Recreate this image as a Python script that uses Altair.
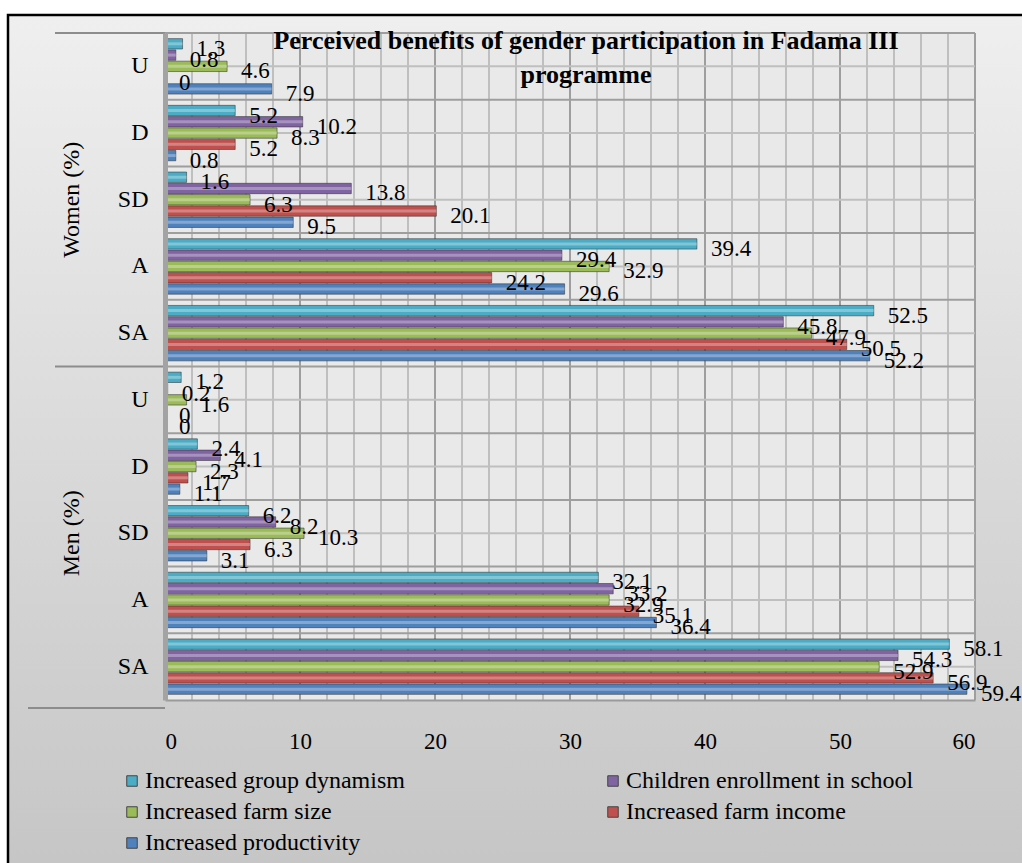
import altair as alt
import pandas as pd

categories = ["U", "D", "SD", "A", "SA"]
groups = ["Women", "Men"]
group_titles = ["Women (%)", "Men (%)"]
series = [
    "Increased group dynamism",
    "Children enrollment in school",
    "Increased farm size",
    "Increased farm income",
    "Increased productivity",
]
colors = ["#4bacc6", "#8064a2", "#9bbb59", "#c0504d", "#4f81bd"]
title_text = "Perceived benefits of gender participation  in Fadama III\nprogramme"
x_ticks = [0, 10, 20, 30, 40, 50, 60]
x_minor = [v for v in range(0, 61, 2) if v % 10 != 0]

# values per category U, D, SD, A, SA
women_group_dynamism = [1.3, 5.2, 1.6, 39.4, 52.5]
women_children = [0.8, 10.2, 13.8, 29.4, 45.8]
women_farm_size = [4.6, 8.3, 6.3, 32.9, 47.9]
women_farm_income = [0, 5.2, 20.1, 24.2, 50.5]
women_productivity = [7.9, 0.8, 9.5, 29.6, 52.2]

men_group_dynamism = [1.2, 2.4, 6.2, 32.1, 58.1]
men_children = [0.2, 4.1, 8.2, 33.2, 54.3]
men_farm_size = [1.6, 2.3, 10.3, 32.9, 52.9]
men_farm_income = [0, 1.7, 6.3, 35.1, 56.9]
men_productivity = [0, 1.1, 3.1, 36.4, 59.4]

women_values = [women_group_dynamism, women_children, women_farm_size,
                women_farm_income, women_productivity]
men_values = [men_group_dynamism, men_children, men_farm_size,
              men_farm_income, men_productivity]

row_order = [f"{g}|{c}" for g in groups for c in categories]

records = []
for g, vals in zip(groups, [women_values, men_values]):
    for s, vs in zip(series, vals):
        for c, v in zip(categories, vs):
            records.append({"row": f"{g}|{c}", "series": s, "value": v,
                            "label": f"{v:g}"})
df = pd.DataFrame(records)
rows_df = pd.DataFrame({"row": row_order})
group_df = pd.DataFrame({"row": [f"{g}|SD" for g in groups], "t": group_titles})
sep_df = pd.DataFrame({"row": [f"{g}|U" for g in groups]})
title_df = pd.DataFrame({"t": [title_text]})
major_df = pd.DataFrame({"v": x_ticks})
minor_df = pd.DataFrame({"v": x_minor})
one_df = pd.DataFrame({"a": [0]})

W, H = 810, 667
SERIF = "Liberation Serif"

xscale = alt.Scale(domain=[0, 60], nice=False)
yscale = alt.Scale(domain=row_order, paddingInner=0, paddingOuter=0)
y_main = alt.Y(
    "row:N", sort=row_order, scale=yscale, title=None,
    axis=alt.Axis(
        labelExpr="split(datum.label, '|')[1]", ticks=False, grid=False,
        domain=True, domainColor="#a3a3a3", domainWidth=5, zindex=1,
        labelFont=SERIF, labelFontSize=24, labelColor="black", labelPadding=17,
    ),
)
yoff = alt.YOffset("series:N", sort=series,
                   scale=alt.Scale(domain=series, paddingInner=0.08, paddingOuter=0.5))
x_main = alt.X(
    "value:Q", title=None, scale=xscale,
    axis=alt.Axis(
        values=x_ticks, ticks=False, domain=True, domainColor="#9a9a9a",
        domainWidth=2, grid=False, zindex=1,
        labelFont=SERIF, labelFontSize=23, labelColor="black", labelPadding=30,
    ),
)

grad = alt.Gradient(
    gradient="linear",
    stops=[alt.GradientStop(offset=0, color="#efefef"),
           alt.GradientStop(offset=0.5, color="#dadada"),
           alt.GradientStop(offset=1, color="#c5c5c5")],
    x1=0, x2=0, y1=0, y2=1,
)
panel_bg = alt.Chart(one_df).mark_rect(fill=grad, stroke="black", strokeWidth=2.5).encode(
    x=alt.value(-157), x2=alt.value(880), y=alt.value(-18), y2=alt.value(850),
)
plot_bg = alt.Chart(one_df).mark_rect(color="#e9e9e9").encode(
    x=alt.value(0), x2=alt.value(W), y=alt.value(0), y2=alt.value(H),
)

minor_rules = alt.Chart(minor_df).mark_rule(color="#bfbfbf", strokeWidth=2).encode(
    x=alt.X("v:Q", scale=xscale)
)
major_rules = alt.Chart(major_df).mark_rule(color="#9e9e9e", strokeWidth=2).encode(
    x=alt.X("v:Q", scale=xscale)
)
mid_rules = alt.Chart(rows_df).mark_rule(color="#bfbfbf", strokeWidth=2).encode(
    y=alt.Y("row:N", sort=row_order, scale=yscale, bandPosition=0.5)
)
edge_rules = alt.Chart(rows_df).mark_rule(color="#9e9e9e", strokeWidth=2).encode(
    y=alt.Y("row:N", sort=row_order, scale=yscale, bandPosition=0)
)

bars = alt.Chart(df).mark_bar(strokeWidth=1, strokeOpacity=0.55, stroke="#333333").encode(
    x=x_main,
    y=y_main,
    yOffset=yoff,
    color=alt.Color(
        "series:N", sort=series,
        scale=alt.Scale(domain=series, range=colors),
        legend=alt.Legend(
            title=None, orient="none", legendX=-45, legendY=736, columns=2,
            direction="horizontal",
            symbolType="square", symbolSize=110, symbolStrokeWidth=1,
            symbolStrokeColor="#444444",
            labelFont=SERIF, labelFontSize=24, labelColor="black",
            labelLimit=500, rowPadding=7, columnPadding=196, labelOffset=1,
        ),
    ),
)

highlight = alt.Chart(df).mark_bar(color="white", opacity=0.3, height=3, yOffset=-2).encode(
    x=alt.X("value:Q", scale=xscale),
    y=alt.Y("row:N", sort=row_order, scale=yscale),
    yOffset=yoff,
)

labels = alt.Chart(df).mark_text(
    align="left", baseline="middle", dx=14, dy=5, font=SERIF, fontSize=23,
    color="black",
).encode(
    x=alt.X("value:Q", scale=xscale),
    y=alt.Y("row:N", sort=row_order, scale=yscale),
    yOffset=yoff,
    text="label:N",
)

group_labels = alt.Chart(group_df).mark_text(
    angle=270, font=SERIF, fontSize=24, color="black", baseline="middle",
    align="center",
).encode(
    x=alt.value(-93),
    y=alt.Y("row:N", sort=row_order, scale=yscale),
    text="t:N",
)

sep_rules = alt.Chart(sep_df).mark_rule(color="#8c8c8c", strokeWidth=2).encode(
    x=alt.value(-110), x2=alt.value(0),
    y=alt.Y("row:N", sort=row_order, scale=yscale, bandPosition=0),
)
bottom_rule = alt.Chart(one_df).mark_rule(color="#8c8c8c", strokeWidth=2).encode(
    x=alt.value(-137), x2=alt.value(0), y=alt.value(H + 8),
)

title = alt.Chart(title_df).mark_text(
    font=SERIF, fontSize=26, fontWeight="bold", color="black",
    align="center", baseline="top", lineBreak="\n", lineHeight=34,
).encode(
    x=alt.value(421), y=alt.value(-5), text="t:N",
)

chart = alt.layer(
    panel_bg, plot_bg, minor_rules, major_rules, mid_rules, edge_rules,
    bars, highlight, labels, group_labels, sep_rules, bottom_rule, title,
).properties(
    width=W, height=H,
    padding={"left": 165, "top": 33, "right": 47, "bottom": 163},
    autosize=alt.AutoSizeParams(type="none"),
    background="white",
).configure_view(
    fill=None, stroke=None,
)

chart.save("out.html", embed_options={"renderer": "svg", "actions": False})
